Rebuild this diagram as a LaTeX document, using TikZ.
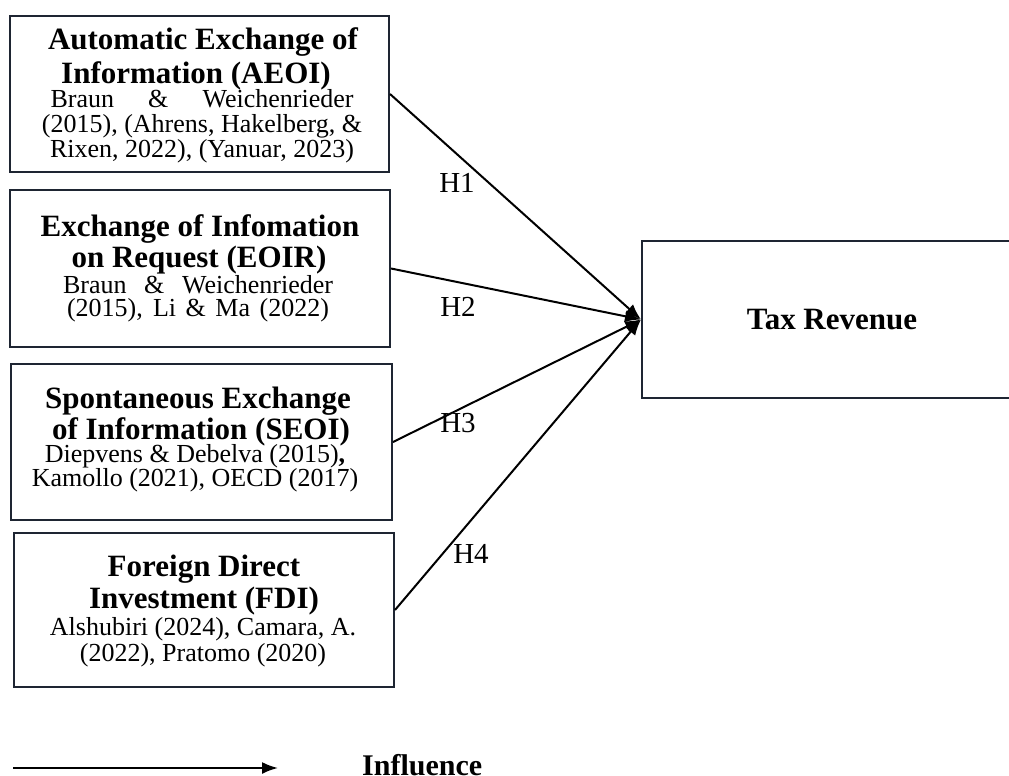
\documentclass[tikz,border=0pt]{standalone}
\usepackage{fontspec}
\setmainfont{Liberation Serif}
\usetikzlibrary{arrows.meta}
\definecolor{boxline}{HTML}{1E2532}
\tikzset{
  vbox/.style={draw=boxline, line width=2pt, inner sep=0pt, anchor=north west, rectangle},
  ttl/.style={font=\fontsize{31}{33}\selectfont\bfseries, anchor=base, inner sep=0pt,
              text height=20pt, text depth=6pt},
  cite/.style={font=\fontsize{26}{26}\selectfont, anchor=base, inner sep=0pt,
               text height=16pt, text depth=5pt},
  hlab/.style={font=\fontsize{29}{30}\selectfont, anchor=base, inner sep=0pt},
  infarrow/.style={-{Latex[length=16pt,width=12pt]}, line width=2pt, black},
}
\begin{document}
\begin{tikzpicture}[x=1pt,y=-1pt]
\useasboundingbox (0,0) rectangle (1009,776);

% boxes
\node[vbox, minimum width=379pt, minimum height=156pt] (b1) at (9,15) {};
\node[vbox, minimum width=380pt, minimum height=157pt] (b2) at (9,189) {};
\node[vbox, minimum width=381pt, minimum height=156pt] (b3) at (10,363) {};
\node[vbox, minimum width=380pt, minimum height=154pt] (b4) at (13,532) {};
\node[vbox, minimum width=380pt, minimum height=157pt,
      font=\fontsize{31}{33}\selectfont\bfseries] (tax) at (641,240) {Tax Revenue};

% box 1
\node[ttl] (b1l1) at (203,50) {Automatic Exchange of};
\node[ttl] (b1l2) at (196,83) {Information (AEOI)};
\node[cite] (b1l3) at (202,107) {\makebox[303pt][s]{Braun \& Weichenrieder}};
\node[cite] (b1l4) at (202,132) {(2015), (Ahrens, Hakelberg, \&};
\node[cite] (b1l5) at (202,157) {Rixen, 2022), (Yanuar, 2023)};

% box 2
\node[ttl] (b2l1) at (200,236) {Exchange of Infomation};
\node[ttl] (b2l2) at (199,267) {on Request (EOIR)};
\node[cite] (b2l3) at (198,293) {\makebox[270pt][s]{Braun \& Weichenrieder}};
\node[cite] (b2l4) at (198,316) {\makebox[262pt][s]{(2015), Li \& Ma (2022)}};

% box 3
\node[ttl] (b3l1) at (198,408) {Spontaneous Exchange};
\node[ttl] (b3l2) at (201,439) {of Information (SEOI)};
\node[cite] (b3l3) at (195,462) {Diepvens \& Debelva (2015){\bfseries ,}};
\node[cite] (b3l4) at (195,486) {Kamollo (2021), OECD (2017)};

% box 4
\node[ttl] (b4l1) at (204,576) {Foreign Direct};
\node[ttl] (b4l2) at (204,608) {Investment (FDI)};
\node[cite] (b4l3) at (203,635) {Alshubiri (2024), Camara, A.};
\node[cite] (b4l4) at (203,661) {(2022), Pratomo (2020)};

% connectors
\draw[infarrow] (b1.east) -- (tax.west);
\draw[infarrow] (b2.east) -- (tax.west);
\draw[infarrow] (b3.east) -- (tax.west);
\draw[infarrow] (b4.east) -- (tax.west);

% hypothesis labels
\node[hlab] (h1) at (457,192) {H1};
\node[hlab] (h2) at (458,316) {H2};
\node[hlab] (h3) at (458,432) {H3};
\node[hlab] (h4) at (471,563) {H4};

% legend
\coordinate (ls) at (13,768);
\coordinate (le) at (278,768);
\draw[infarrow] (ls) -- (le);
\node[font=\fontsize{30}{32}\selectfont\bfseries, anchor=base west, inner sep=0pt,
      text depth=0pt] (infl) at (362,775) {Influence};
\end{tikzpicture}
\end{document}
